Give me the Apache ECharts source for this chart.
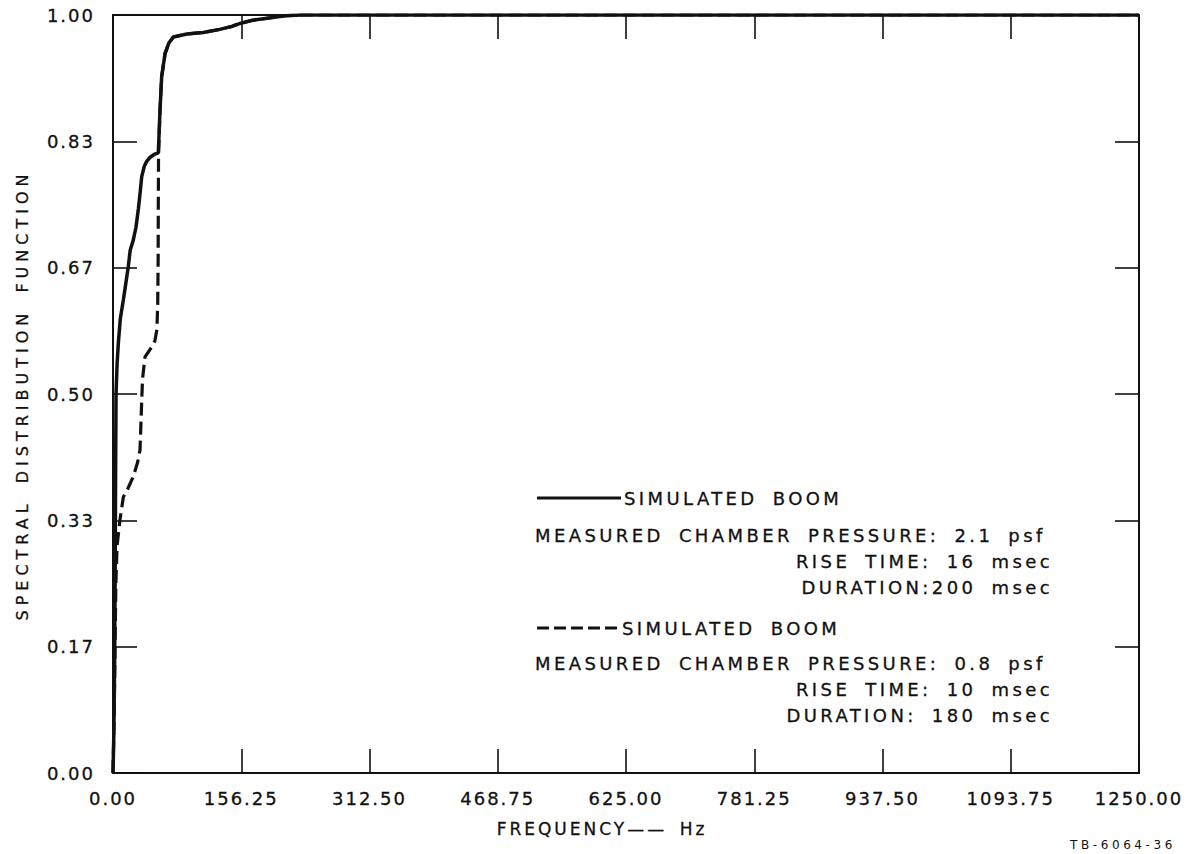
<!DOCTYPE html>
<html>
<head>
<meta charset="utf-8">
<script src="https://cdn.jsdelivr.net/npm/echarts@6/dist/echarts.min.js"></script>
<style>
  html, body { margin: 0; padding: 0; background: #fff; }
  #chart { width: 1187px; height: 854px; }
  #chart text { letter-spacing: 2px; }
  #chart text[style*="lgdx"] { letter-spacing: 3.4px; word-spacing: 6px; }
  #chart text[style*="xnmx"] { letter-spacing: 3px; word-spacing: 4px; }
  #chart text[style*="ynmx"] { letter-spacing: 5px; word-spacing: 6px; }
  #chart text[style*="tbx"] { letter-spacing: 3.6px; }
</style>
</head>
<body>
<div id="chart"></div>
<script>
// ---- data (Hz, spectral distribution function) ----
const xTicks = [0, 156.25, 312.5, 468.75, 625, 781.25, 937.5, 1093.75, 1250];
const yTickLabels = ['0.00', '0.17', '0.33', '0.50', '0.67', '0.83', '1.00'];

// Solid curve: 2.1 psf, rise 16 msec, duration 200 msec
const solidFreq = [0, 1, 2, 2.8, 3.2, 3.7, 5, 6.5, 9, 12.6, 15.5, 18.6, 21, 24.7, 28, 31, 33, 35, 38, 41, 45, 50, 55.2, 57.3, 59.3, 63.4, 68, 73.5, 90, 110, 130, 145, 155, 170, 190, 210, 229, 1250];
const solidSDF  = [0, 0.05, 0.15, 0.30, 0.40, 0.50, 0.54, 0.567, 0.60, 0.624, 0.645, 0.668, 0.69, 0.703, 0.72, 0.745, 0.765, 0.787, 0.80, 0.807, 0.812, 0.816, 0.818, 0.875, 0.919, 0.949, 0.963, 0.971, 0.975, 0.977, 0.981, 0.985, 0.989, 0.993, 0.996, 0.999, 1.0, 1.0];

// Dashed curve: 0.8 psf, rise 10 msec, duration 180 msec
const dashedFreq = [0, 1.5, 2.5, 3.5, 5, 8.5, 12.6, 18, 24.7, 30, 32.9, 34, 35, 36, 39, 44, 47.2, 51, 53.5, 54.5, 55, 55.2, 55.5, 57.3, 59.3, 63.4, 68, 73.5, 90, 110, 130, 145, 155, 170, 190, 210, 229, 1250];
const dashedSDF  = [0, 0.08, 0.17, 0.25, 0.30, 0.334, 0.364, 0.375, 0.391, 0.41, 0.426, 0.46, 0.492, 0.52, 0.549, 0.557, 0.562, 0.57, 0.585, 0.62, 0.677, 0.75, 0.818, 0.875, 0.919, 0.949, 0.963, 0.971, 0.975, 0.977, 0.981, 0.985, 0.989, 0.993, 0.996, 0.999, 1.0, 1.0];

const legendSolid = ['SIMULATED BOOM', 'MEASURED CHAMBER PRESSURE: 2.1 psf', 'RISE TIME: 16 msec', 'DURATION:200 msec'];
const legendDashed = ['SIMULATED BOOM', 'MEASURED CHAMBER PRESSURE: 0.8 psf', 'RISE TIME: 10 msec', 'DURATION: 180 msec'];

const xName = 'FREQUENCY—— Hz';
const yName = 'SPECTRAL DISTRIBUTION FUNCTION';
const figId = 'TB-6064-36';

// ---- build ----
const FONT = 'DejaVu Sans';
const INK = '#111';
const chart = echarts.init(document.getElementById('chart'), null, { renderer: 'svg' });

const zip = (a, b) => a.map((v, i) => [v, b[i]]);

const tickCommon = { show: true, inside: true, length: 24, lineStyle: { color: INK, width: 1.6 } };
const lineCommon = { show: true, onZero: false, lineStyle: { color: INK, width: 2 } };

const lgdFont = FONT + ', lgdx';
function lgdText(txt, x, y, align) {
  return { type: 'text', x: x, y: y, style: { text: txt, fill: INK, fontFamily: lgdFont, fontSize: 18, textAlign: align, textVerticalAlign: 'middle', stroke: INK, lineWidth: 0.3 } };
}

const option = {
  backgroundColor: '#fff',
  animation: false,
  grid: { left: 113, right: 48, top: 15, bottom: 81 },
  xAxis: [
    {
      type: 'value', min: 0, max: 1250, interval: 156.25, position: 'bottom',
      axisLine: lineCommon, axisTick: tickCommon, splitLine: { show: false },
      axisLabel: { color: INK, fontFamily: FONT, fontSize: 18, margin: 16, formatter: v => v.toFixed(2), showMinLabel: true, showMaxLabel: true, textBorderColor: INK, textBorderWidth: 0.3 }
    },
    {
      type: 'value', min: 0, max: 1250, interval: 156.25, position: 'top',
      axisLine: lineCommon, axisTick: tickCommon, splitLine: { show: false }, axisLabel: { show: false }
    }
  ],
  yAxis: [
    {
      type: 'value', min: 0, max: 1, interval: 1 / 6, position: 'left',
      axisLine: lineCommon, axisTick: tickCommon, splitLine: { show: false },
      axisLabel: { color: INK, fontFamily: FONT, fontSize: 18, margin: 18, formatter: v => yTickLabels[Math.round(v * 6)], textBorderColor: INK, textBorderWidth: 0.3 }
    },
    {
      type: 'value', min: 0, max: 1, interval: 1 / 6, position: 'right',
      axisLine: lineCommon, axisTick: tickCommon, splitLine: { show: false }, axisLabel: { show: false }
    }
  ],
  series: [
    {
      type: 'line', name: 'dashed', xAxisIndex: 0, yAxisIndex: 0,
      data: zip(dashedFreq, dashedSDF), showSymbol: false, symbol: 'none',
      lineStyle: { color: INK, width: 3.2, type: [13, 6] }, z: 2
    },
    {
      type: 'line', name: 'solid', xAxisIndex: 0, yAxisIndex: 0,
      data: zip(solidFreq, solidSDF), showSymbol: false, symbol: 'none',
      lineStyle: { color: INK, width: 3.5 }, z: 3
    }
  ],
  graphic: [
    { type: 'line', shape: { x1: 537, y1: 498, x2: 621, y2: 498 }, style: { stroke: INK, lineWidth: 3 } },
    lgdText(legendSolid[0], 624, 498, 'left'),
    lgdText(legendSolid[1], 535, 535, 'left'),
    lgdText(legendSolid[2], 1053, 561, 'right'),
    lgdText(legendSolid[3], 1053, 587, 'right'),
    { type: 'line', shape: { x1: 537, y1: 628, x2: 621, y2: 628 }, style: { stroke: INK, lineWidth: 3, lineDash: [12, 5] } },
    lgdText(legendDashed[0], 622, 628, 'left'),
    lgdText(legendDashed[1], 535, 663, 'left'),
    lgdText(legendDashed[2], 1053, 689, 'right'),
    lgdText(legendDashed[3], 1053, 715, 'right'),
    { type: 'text', x: 602, y: 829, style: { text: xName, fill: INK, fontFamily: FONT + ', xnmx', fontSize: 17, textAlign: 'center', textVerticalAlign: 'middle', stroke: INK, lineWidth: 0.3 } },
    { type: 'text', x: 22, y: 395, rotation: Math.PI / 2, style: { text: yName, fill: INK, fontFamily: FONT + ', ynmx', fontSize: 16, textAlign: 'center', textVerticalAlign: 'middle', stroke: INK, lineWidth: 0.3 } },
    { type: 'text', x: 1176, y: 845, style: { text: figId, fill: INK, fontFamily: FONT + ', tbx', fontSize: 12, textAlign: 'right', textVerticalAlign: 'middle' } }
  ]
};
chart.setOption(option);
</script>
</body>
</html>
